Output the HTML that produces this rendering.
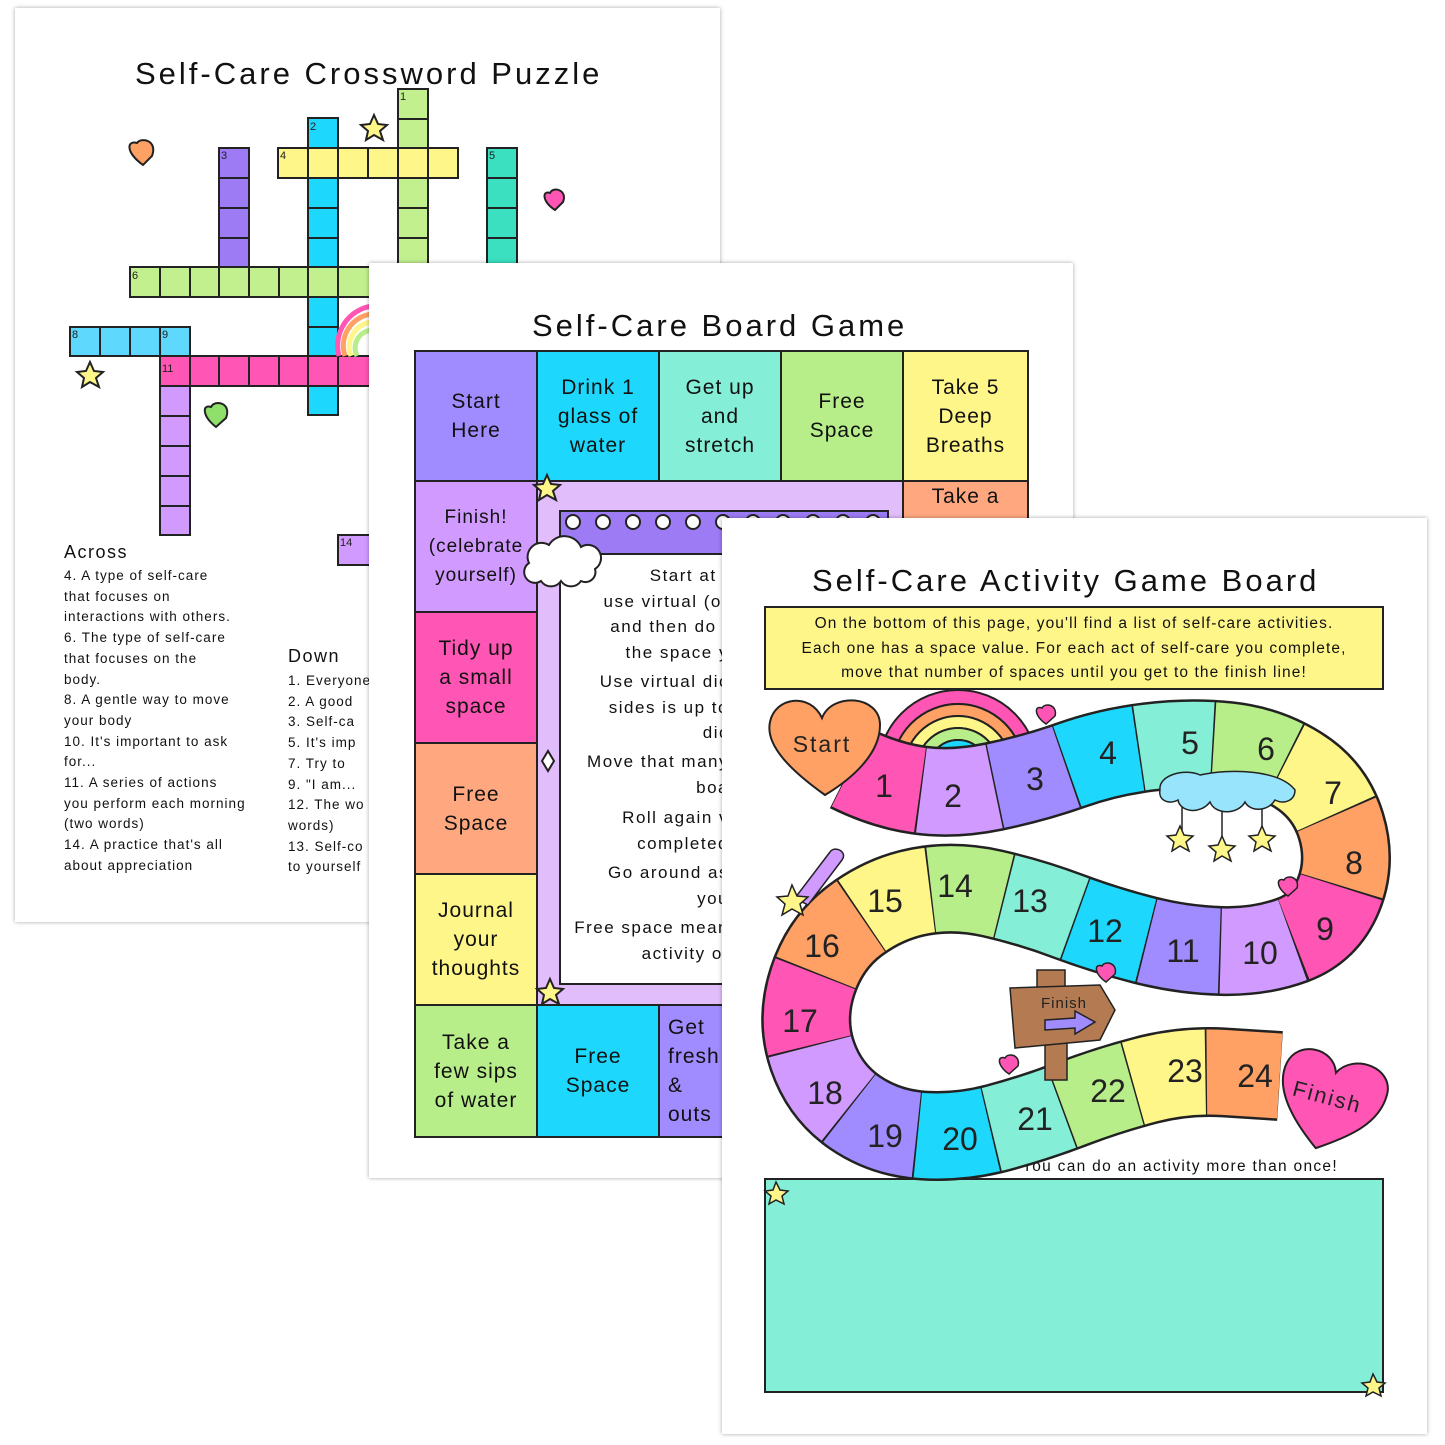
<!DOCTYPE html>
<html><head><meta charset="utf-8"><style>
body{margin:0;width:1445px;height:1445px;background:#fff;position:relative;overflow:hidden;font-family:"Liberation Sans","DejaVu Sans",sans-serif;color:#111}
.page{position:absolute;background:#fff;box-shadow:0 0 4px rgba(0,0,0,.35)}
.t{position:absolute;white-space:nowrap}
.cell{position:absolute;box-sizing:border-box;border:2px solid #222;display:flex;align-items:center;justify-content:center;text-align:center;font-size:21px;line-height:29px;letter-spacing:1px}
.clue{position:absolute;font-size:13.5px;line-height:20.7px;letter-spacing:1px;white-space:nowrap}
</style></head><body>

<!-- PAGE 1 -->
<div class="page" style="left:15px;top:8px;width:705px;height:914px">
<div class="t" style="left:120px;top:48px;font-size:31px;letter-spacing:3px">Self-Care Crossword Puzzle</div>
<svg style="position:absolute;left:-15px;top:-8px" width="720" height="930">
<g stroke="#222" stroke-width="2">
<rect x="398" y="89" width="30" height="30" fill="#c2f08f"/><rect x="398" y="119" width="30" height="29" fill="#c2f08f"/>
<rect x="398" y="178" width="30" height="30" fill="#c2f08f"/><rect x="398" y="208" width="30" height="30" fill="#c2f08f"/><rect x="398" y="238" width="30" height="30" fill="#c2f08f"/>
<rect x="308" y="118" width="30" height="30" fill="#1dd8fc"/>
<rect x="308" y="178" width="30" height="30" fill="#1dd8fc"/><rect x="308" y="208" width="30" height="30" fill="#1dd8fc"/><rect x="308" y="238" width="30" height="29" fill="#1dd8fc"/>
<rect x="308" y="297" width="30" height="30" fill="#1dd8fc"/><rect x="308" y="327" width="30" height="29" fill="#1dd8fc"/><rect x="308" y="386" width="30" height="29" fill="#1dd8fc"/>
<rect x="219" y="148" width="30" height="30" fill="#9d7bf5"/><rect x="219" y="178" width="30" height="30" fill="#9d7bf5"/><rect x="219" y="208" width="30" height="30" fill="#9d7bf5"/><rect x="219" y="238" width="30" height="29" fill="#9d7bf5"/>
<rect x="278" y="148" width="30" height="30" fill="#fff68a"/><rect x="308" y="148" width="30" height="30" fill="#fff68a"/><rect x="338" y="148" width="30" height="30" fill="#fff68a"/><rect x="368" y="148" width="30" height="30" fill="#fff68a"/><rect x="398" y="148" width="30" height="30" fill="#fff68a"/><rect x="428" y="148" width="30" height="30" fill="#fff68a"/>
<rect x="487" y="148" width="30" height="30" fill="#3ae0c0"/><rect x="487" y="178" width="30" height="30" fill="#3ae0c0"/><rect x="487" y="208" width="30" height="30" fill="#3ae0c0"/><rect x="487" y="238" width="30" height="30" fill="#3ae0c0"/>
<rect x="130" y="267" width="30" height="30" fill="#c2f08f"/><rect x="160" y="267" width="30" height="30" fill="#c2f08f"/><rect x="190" y="267" width="29" height="30" fill="#c2f08f"/><rect x="219" y="267" width="30" height="30" fill="#c2f08f"/><rect x="249" y="267" width="30" height="30" fill="#c2f08f"/><rect x="279" y="267" width="29" height="30" fill="#c2f08f"/><rect x="308" y="267" width="30" height="30" fill="#c2f08f"/><rect x="338" y="267" width="32" height="30" fill="#c2f08f"/>
<rect x="70" y="327" width="30" height="29" fill="#5ed8fc"/><rect x="100" y="327" width="30" height="29" fill="#5ed8fc"/><rect x="130" y="327" width="30" height="29" fill="#5ed8fc"/><rect x="160" y="327" width="30" height="29" fill="#5ed8fc"/>
<rect x="160" y="356" width="30" height="30" fill="#ff55b4"/><rect x="190" y="356" width="29" height="30" fill="#ff55b4"/><rect x="219" y="356" width="30" height="30" fill="#ff55b4"/><rect x="249" y="356" width="30" height="30" fill="#ff55b4"/><rect x="279" y="356" width="29" height="30" fill="#ff55b4"/><rect x="308" y="356" width="30" height="30" fill="#ff55b4"/><rect x="338" y="356" width="32" height="30" fill="#ff55b4"/>
<rect x="160" y="386" width="30" height="30" fill="#d09aff"/><rect x="160" y="416" width="30" height="30" fill="#d09aff"/><rect x="160" y="446" width="30" height="30" fill="#d09aff"/><rect x="160" y="476" width="30" height="30" fill="#d09aff"/><rect x="160" y="506" width="30" height="29" fill="#d09aff"/>
<rect x="338" y="535" width="32" height="30" fill="#d09aff"/>
</g>
<g fill="none" stroke-width="5"><path d="M339 356 A40 40 0 0 1 372 306" stroke="#ff55b4"/><path d="M345 356 A32 32 0 0 1 372 314" stroke="#ffa064"/><path d="M351 356 A25 25 0 0 1 372 322" stroke="#fff68a"/><path d="M357 356 A18 18 0 0 1 372 330" stroke="#b8ee8a"/></g>
<g font-size="11" fill="#222"><text x="400" y="100">1</text><text x="310" y="130">2</text><text x="221" y="159">3</text><text x="280" y="159">4</text><text x="489" y="159">5</text><text x="132" y="279">6</text><text x="72" y="338">8</text><text x="162" y="338">9</text><text x="162" y="372">11</text><text x="340" y="546">14</text></g>
<path d="M143 165 C125 152 127 140 137 143 C141 137 158 140 152 156 Z" fill="#ffa064" stroke="#222" stroke-width="2"/>
<path d="M555 210 C542 202 542 190 550 193 C553 186 568 190 563 202 Z" fill="#ff55b4" stroke="#222" stroke-width="2"/>
<path d="M216 427 C202 416 202 404 211 407 C215 399 232 403 226 418 Z" fill="#8ee06a" stroke="#222" stroke-width="2"/>
<polygon points="374,115 378,124 387,125 380,131 383,140 374,135 366,140 368,131 361,125 370,124" fill="#fff68a" stroke="#222" stroke-width="2"/>
<polygon points="90,362 94,371 103,372 96,378 99,387 90,382 82,387 84,378 77,372 86,371" fill="#fff68a" stroke="#222" stroke-width="2"/>
</svg>
<div class="t" style="left:49px;top:534px;font-size:18px;letter-spacing:1.5px">Across</div>
<div class="clue" style="left:49px;top:558px">4. A type of self-care<br>that focuses on<br>interactions with others.<br>6. The type of self-care<br>that focuses on the<br>body.<br>8. A gentle way to move<br>your body<br>10. It's important to ask<br>for...<br>11. A series of actions<br>you perform each morning<br>(two words)<br>14. A practice that's all<br>about appreciation</div>
<div class="t" style="left:273px;top:638px;font-size:18px;letter-spacing:1.5px">Down</div>
<div class="clue" style="left:273px;top:663px">1. Everyone<br>2. A good<br>3. Self-ca<br>5. It's imp<br>7. Try to<br>9. "I am...<br>12. The wo<br>words)<br>13. Self-co<br>to yourself</div>
</div>

<!-- PAGE 2 -->
<div class="page" style="left:369px;top:263px;width:704px;height:915px;overflow:hidden">
<div class="t" style="left:163px;top:45px;font-size:31px;letter-spacing:3px">Self-Care Board Game</div>
<div style="position:absolute;left:45px;top:87px;width:615px;height:788px">
<div class="cell" style="left:0;top:0;width:124px;height:132px;background:#a08cff">Start<br>Here</div>
<div class="cell" style="left:122px;top:0;width:124px;height:132px;background:#1dd8fc">Drink 1<br>glass of<br>water</div>
<div class="cell" style="left:244px;top:0;width:124px;height:132px;background:#84eed6">Get up<br>and<br>stretch</div>
<div class="cell" style="left:366px;top:0;width:124px;height:132px;background:#b8ee8a">Free<br>Space</div>
<div class="cell" style="left:488px;top:0;width:127px;height:132px;background:#fff68a">Take 5<br>Deep<br>Breaths</div>
<div class="cell" style="left:0;top:130px;width:124px;height:133px;background:#d09aff;font-size:19px">Finish!<br>(celebrate<br>yourself)</div>
<div class="cell" style="left:0;top:261px;width:124px;height:133px;background:#ff55b4">Tidy up<br>a small<br>space</div>
<div class="cell" style="left:0;top:392px;width:124px;height:133px;background:#ffa880">Free<br>Space</div>
<div class="cell" style="left:0;top:523px;width:124px;height:133px;background:#fff68a">Journal<br>your<br>thoughts</div>
<div class="cell" style="left:0;top:654px;width:124px;height:134px;background:#b8ee8a">Take a<br>few sips<br>of water</div>
<div class="cell" style="left:122px;top:654px;width:124px;height:134px;background:#1dd8fc">Free<br>Space</div>
<div class="cell" style="left:244px;top:654px;width:124px;height:134px;background:#a08cff;justify-content:flex-start;padding-left:8px;text-align:left">Get<br>fresh<br>&amp;<br>outs</div>
<div class="cell" style="left:488px;top:130px;width:127px;height:133px;background:#ffa880;align-items:flex-start">Take a</div>
<div style="position:absolute;left:122px;top:130px;width:368px;height:526px;background:#e2bdfc;border:2px solid #222;box-sizing:border-box"></div>
<div style="position:absolute;left:145px;top:160px;width:330px;height:475px;background:#fff;border:2px solid #222;box-sizing:border-box"></div>
<div style="position:absolute;left:145px;top:160px;width:330px;height:45px;background:#9d7bf5;border:2px solid #222;box-sizing:border-box"></div>
<svg style="position:absolute;left:145px;top:150px" width="330" height="40"><g fill="#fff" stroke="#222" stroke-width="2"><circle cx="14" cy="22" r="7"/><circle cx="44" cy="22" r="7"/><circle cx="74" cy="22" r="7"/><circle cx="104" cy="22" r="7"/><circle cx="134" cy="22" r="7"/><circle cx="164" cy="22" r="7"/><circle cx="194" cy="22" r="7"/><circle cx="224" cy="22" r="7"/><circle cx="254" cy="22" r="7"/><circle cx="284" cy="22" r="7"/><circle cx="314" cy="22" r="7"/></g></svg>
</div>
<div style="position:absolute;left:160px;top:300px;width:200px;font-size:17px;line-height:25.6px;letter-spacing:1.5px;text-align:right;white-space:nowrap">Start at t<br>use virtual (or<br>and then do t<br>the space y</div>
<div style="position:absolute;left:160px;top:406px;width:200px;font-size:17px;line-height:25.6px;letter-spacing:1.5px;text-align:right;white-space:nowrap">Use virtual dic<br>sides is up to<br>dic</div>
<div style="position:absolute;left:160px;top:486px;width:200px;font-size:17px;line-height:25.6px;letter-spacing:1.5px;text-align:right;white-space:nowrap">Move that many<br>boa</div>
<div style="position:absolute;left:160px;top:542px;width:200px;font-size:17px;line-height:25.6px;letter-spacing:1.5px;text-align:right;white-space:nowrap">Roll again v<br>completed</div>
<div style="position:absolute;left:160px;top:597px;width:200px;font-size:17px;line-height:25.6px;letter-spacing:1.5px;text-align:right;white-space:nowrap">Go around as<br>you</div>
<div style="position:absolute;left:160px;top:652px;width:200px;font-size:17px;line-height:25.6px;letter-spacing:1.5px;text-align:right;white-space:nowrap">Free space mean<br>activity of</div>
<svg style="position:absolute;left:0;top:0" width="704" height="915">
<path d="M160 300 a14 14 0 0 1 20 -18 a18 18 0 0 1 32 2 a12 12 0 0 1 14 22 a10 10 0 0 1 -14 12 a12 12 0 0 1 -20 0 a12 12 0 0 1 -20 0 a10 10 0 0 1 -12 -18z" fill="#fff" stroke="#222" stroke-width="2"/>
<polygon points="178,212 182,221 191,222 184,228 187,237 178,232 170,237 172,228 165,222 174,221" fill="#fff68a" stroke="#222" stroke-width="2"/>
<polygon points="181,716 185,725 194,726 187,732 190,741 181,736 173,741 175,732 168,726 177,725" fill="#fff68a" stroke="#222" stroke-width="2"/>
<polygon points="179,488 185,498 179,508 173,498" fill="#fff" stroke="#222" stroke-width="2"/>
</svg>
</div>

<!-- PAGE 3 -->
<div class="page" style="left:722px;top:518px;width:705px;height:916px">
<div class="t" style="left:90px;top:45px;font-size:31px;letter-spacing:3px">Self-Care Activity Game Board</div>
<div style="position:absolute;left:42px;top:88px;width:620px;height:84px;box-sizing:border-box;background:#fff68a;border:2px solid #222;font-size:15.5px;line-height:24.5px;letter-spacing:1.1px;text-align:center;padding-top:4px">On the bottom of this page, you'll find a list of self-care activities.<br>Each one has a space value. For each act of self-care you complete,<br>move that number of spaces until you get to the finish line!</div>
<div class="t" style="left:300px;top:640px;font-size:15.5px;letter-spacing:1.3px">You can do an activity more than once!</div>
<div style="position:absolute;left:42px;top:660px;width:620px;height:215px;box-sizing:border-box;background:#84eed6;border:2px solid #222"></div>
</div>

<svg id="g3" style="position:absolute;left:0;top:0" width="1445" height="1445">
<g fill="none" stroke="#222" stroke-width="2">
<path d="M885 770 A73 73 0 0 1 1031 770" stroke-width="16" stroke="#222"/>
<path d="M885 770 A73 73 0 0 1 1031 770" stroke-width="12" stroke="#ff55b4"/>
<path d="M898 770 A60 60 0 0 1 1018 770" stroke-width="14" stroke="#222"/>
<path d="M898 770 A60 60 0 0 1 1018 770" stroke-width="10" stroke="#ffa064"/>
<path d="M910 770 A48 48 0 0 1 1006 770" stroke-width="14" stroke="#222"/>
<path d="M910 770 A48 48 0 0 1 1006 770" stroke-width="10" stroke="#fff68a"/>
<path d="M922 770 A36 36 0 0 1 994 770" stroke-width="14" stroke="#222"/>
<path d="M922 770 A36 36 0 0 1 994 770" stroke-width="10" stroke="#b8ee8a"/>
<path d="M933 770 A25 25 0 0 1 983 770" stroke-width="12" stroke="#222"/>
<path d="M933 770 A25 25 0 0 1 983 770" stroke-width="8" stroke="#1dd8fc"/>
</g>
<path id="road" fill="none" stroke="#222" stroke-width="90" d="M850 768 Q884 785 918.5 790 Q953 795 994 786.5 Q1035 778 1071.5 765 Q1108 752 1149 747 Q1190 742 1228 746 Q1266 750 1298 770 Q1330 790 1341 826 Q1352 862 1338.5 895 Q1325 928 1292.5 940 Q1260 952 1221.5 951 Q1183 950 1144 940 Q1105 930 1067.5 916 Q1030 902 992.5 893.5 Q955 885 920 891.5 Q885 898 855 920.5 Q825 943 812.5 981.5 Q800 1020 812.5 1056 Q825 1092 855 1112.5 Q885 1133 922.5 1135.5 Q960 1138 997.5 1128 Q1035 1118 1071.5 1104 Q1108 1090 1146.5 1080 Q1185 1070 1225 1072.5 L1280 1076"/>
<g id="segs" fill="none" stroke-width="85"></g>
<g font-size="32" text-anchor="middle" fill="#222" font-family="Liberation Sans, sans-serif">
<text x="884" y="797">1</text><text x="953" y="807">2</text><text x="1035" y="790">3</text><text x="1108" y="764">4</text><text x="1190" y="754">5</text><text x="1266" y="760">6</text><text x="1333" y="804">7</text><text x="1354" y="874">8</text><text x="1325" y="940">9</text><text x="1260" y="964">10</text><text x="1183" y="962">11</text><text x="1105" y="942">12</text><text x="1030" y="912">13</text><text x="955" y="897">14</text><text x="885" y="912">15</text><text x="822" y="957">16</text><text x="800" y="1032">17</text><text x="825" y="1104">18</text><text x="885" y="1147">19</text><text x="960" y="1150">20</text><text x="1035" y="1130">21</text><text x="1108" y="1102">22</text><text x="1185" y="1082">23</text><text x="1255" y="1087">24</text>
</g>
<path d="M825 795 C790 770 765 745 770 722 C775 697 810 692 822 718 C832 692 880 695 880 725 C880 755 850 780 825 795 Z" fill="#ffa064" stroke="#222" stroke-width="2"/>
<text x="822" y="752" font-size="23" text-anchor="middle" letter-spacing="2" fill="#222">Start</text>
<g transform="rotate(15 1330 1095)">
<path d="M1330 1150 C1295 1125 1275 1100 1280 1075 C1285 1050 1322 1048 1330 1072 C1342 1048 1385 1052 1385 1080 C1385 1110 1360 1130 1330 1150 Z" fill="#ff55b4" stroke="#222" stroke-width="2"/>
<text x="1328" y="1105" font-size="22" text-anchor="middle" letter-spacing="2" fill="#222">Finish</text>
</g>
<g stroke="#222" stroke-width="1.5">
<line x1="1182" y1="800" x2="1182" y2="830"/><line x1="1222" y1="810" x2="1222" y2="840"/><line x1="1262" y1="805" x2="1262" y2="830"/>
<path d="M1160 790 C1158 775 1185 768 1200 775 C1230 768 1280 770 1295 790 C1295 800 1285 805 1275 800 C1268 812 1250 812 1245 802 C1238 815 1215 815 1210 802 C1200 815 1180 812 1178 800 C1168 805 1158 800 1160 790 Z" fill="#98e4fc"/>
<polygon points="1180,826 1184,835 1193,836 1186,842 1189,851 1180,846 1172,851 1174,842 1167,836 1176,835" fill="#fff68a"/>
<polygon points="1222,836 1226,845 1235,846 1228,852 1231,861 1222,856 1214,861 1216,852 1209,846 1218,845" fill="#fff68a"/>
<polygon points="1262,826 1266,835 1275,836 1268,842 1271,851 1262,846 1254,851 1256,842 1249,836 1258,835" fill="#fff68a"/>
<path d="M795 898 L830 852 C835 845 848 852 842 860 L808 905 Z" fill="#d09aff"/>
<polygon points="792,885 797,896 808,897 800,904 803,915 792,909 782,915 785,904 777,897 788,896" fill="#fff68a"/>
<path d="M1046 724 C1034 716 1034 705 1042 708 C1045 702 1058 705 1055 716 Z" fill="#ff55b4"/>
<path d="M1288 896 C1276 888 1276 877 1284 880 C1287 874 1300 877 1297 888 Z" fill="#ff55b4"/>
<path d="M1106 982 C1094 974 1094 963 1102 966 C1105 960 1118 963 1115 974 Z" fill="#ff55b4"/>
<path d="M1009 1074 C997 1066 997 1055 1005 1058 C1008 1052 1021 1055 1018 1066 Z" fill="#ff55b4"/>
<rect x="1045" y="1040" width="22" height="40" fill="#b47a52"/>
<rect x="1037" y="970" width="28" height="18" fill="#b47a52"/>
<path d="M1010 988 L1100 985 L1115 1010 L1100 1040 L1015 1048 Z" fill="#b47a52"/>
<path d="M1045 1020 L1075 1018 L1075 1011 L1095 1022 L1075 1034 L1075 1028 L1045 1030 Z" fill="#a08cff"/>
<polygon points="776,1182 780,1190 788,1191 782,1196 784,1204 776,1200 769,1204 771,1196 765,1191 773,1190" fill="#fff68a"/>
<polygon points="1373,1374 1377,1382 1385,1383 1379,1388 1381,1396 1373,1392 1366,1396 1368,1388 1362,1383 1370,1382" fill="#fff68a"/>
</g>
<text x="1064" y="1008" font-size="15" text-anchor="middle" letter-spacing="1" fill="#222">Finish</text>
</svg>
<script>
(function(){
var road=document.getElementById('road'),g=document.getElementById('segs');
var L=road.getTotalLength(),s=L/24,d=road.getAttribute('d');
var cols=['#ff55b4','#d09aff','#a08cff','#1dd8fc','#84eed6','#b8ee8a','#fff68a','#ffa064'];
var ns='http://www.w3.org/2000/svg';
for(var i=0;i<24;i++){
var p=document.createElementNS(ns,'path');p.setAttribute('d',d);
p.setAttribute('stroke',cols[i%8]);
p.setAttribute('stroke-dasharray',(s-1.5)+' '+(L*2));
p.setAttribute('stroke-dashoffset',(-(i*s+0.75)));
g.appendChild(p);}
})();
</script>
</body></html>
